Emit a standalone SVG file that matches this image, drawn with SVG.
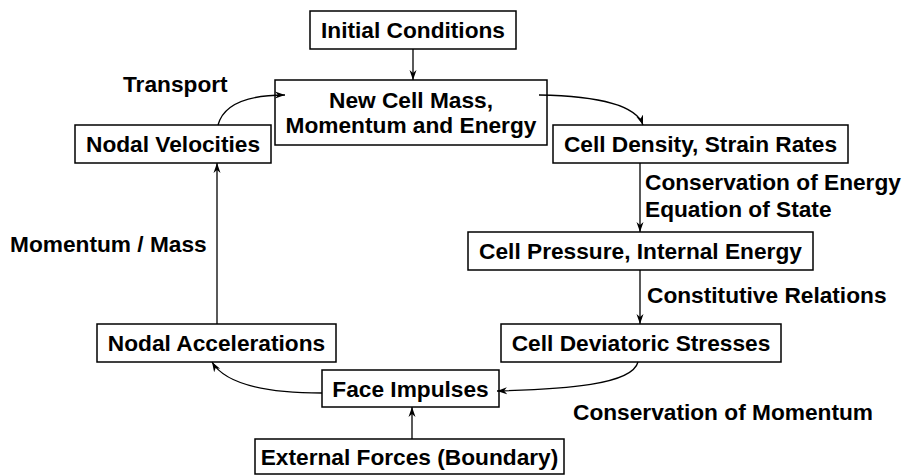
<svg xmlns="http://www.w3.org/2000/svg" width="905" height="475" viewBox="0 0 905 475">
<defs>
<style>
.box{fill:#fff;stroke:#000;stroke-width:1.5}
.t{font-family:"Liberation Sans",Arial,sans-serif;font-weight:bold;font-size:22.7px;fill:#000}
.c{text-anchor:middle}
.e{fill:none;stroke:#000;stroke-width:1.3}
</style>
<marker id="ah" viewBox="0 0 10 8" refX="10" refY="4" markerWidth="10" markerHeight="8" markerUnits="userSpaceOnUse" orient="auto">
<path d="M0,0.5 L10,4 L0,7.5 L3,4 Z" fill="#000"/>
</marker>
</defs>
<rect width="905" height="475" fill="#fff"/>
<g id="initial"><rect class="box" x="310" y="11" width="206" height="38"/><text class="t c" x="413" y="38">Initial Conditions</text></g>
<g id="newcell"><rect class="box" x="275" y="80" width="272" height="65"/><text class="t c" x="411" y="108">New Cell Mass,</text><text class="t c" x="411" y="133">Momentum and Energy</text></g>
<g id="nodalvel"><rect class="box" x="75" y="125" width="196" height="38"/><text class="t c" x="173" y="152">Nodal Velocities</text></g>
<g id="celldensity"><rect class="box" x="553" y="125" width="295" height="38"/><text class="t c" x="700.5" y="152">Cell Density, Strain Rates</text></g>
<g id="cellpressure"><rect class="box" x="468" y="232" width="345" height="38"/><text class="t c" x="640.5" y="259">Cell Pressure, Internal Energy</text></g>
<g id="celldev"><rect class="box" x="501" y="324" width="280" height="38"/><text class="t c" x="641" y="351">Cell Deviatoric Stresses</text></g>
<g id="nodalacc"><rect class="box" x="97" y="324" width="239" height="38"/><text class="t c" x="216.5" y="351">Nodal Accelerations</text></g>
<g id="face"><rect class="box" x="322" y="370" width="177" height="37"/><text class="t c" x="410.5" y="397">Face Impulses</text></g>
<g id="external"><rect class="box" x="255" y="439" width="309" height="35"/><text class="t c" x="409.5" y="465">External Forces (Boundary)</text></g>
<g id="labels">
<text class="t" x="123" y="92">Transport</text>
<text class="t" x="10" y="252">Momentum / Mass</text>
<text class="t" x="645" y="190">Conservation of Energy</text>
<text class="t" x="645" y="217">Equation of State</text>
<text class="t" x="647" y="303">Constitutive Relations</text>
<text class="t" x="573" y="420">Conservation of Momentum</text>
</g>
<g id="connectors">
<line class="e" x1="413" y1="49" x2="413" y2="80" marker-end="url(#ah)"/>
<path class="e" d="M218,125 C224,103 250,95 285,95" marker-end="url(#ah)"/>
<path class="e" d="M539,95 C600,96 636,105 643,125" marker-end="url(#ah)"/>
<line class="e" x1="640" y1="163" x2="640" y2="232" marker-end="url(#ah)"/>
<line class="e" x1="640" y1="270" x2="640" y2="324" marker-end="url(#ah)"/>
<path class="e" d="M638,362 C632,385 565,389 497,391" marker-end="url(#ah)"/>
<path class="e" d="M322,393 C260,393 224,382 212,362" marker-end="url(#ah)"/>
<line class="e" x1="412" y1="439" x2="412" y2="407" marker-end="url(#ah)"/>
<line class="e" x1="217" y1="324" x2="217" y2="163" marker-end="url(#ah)"/>
</g>
</svg>
